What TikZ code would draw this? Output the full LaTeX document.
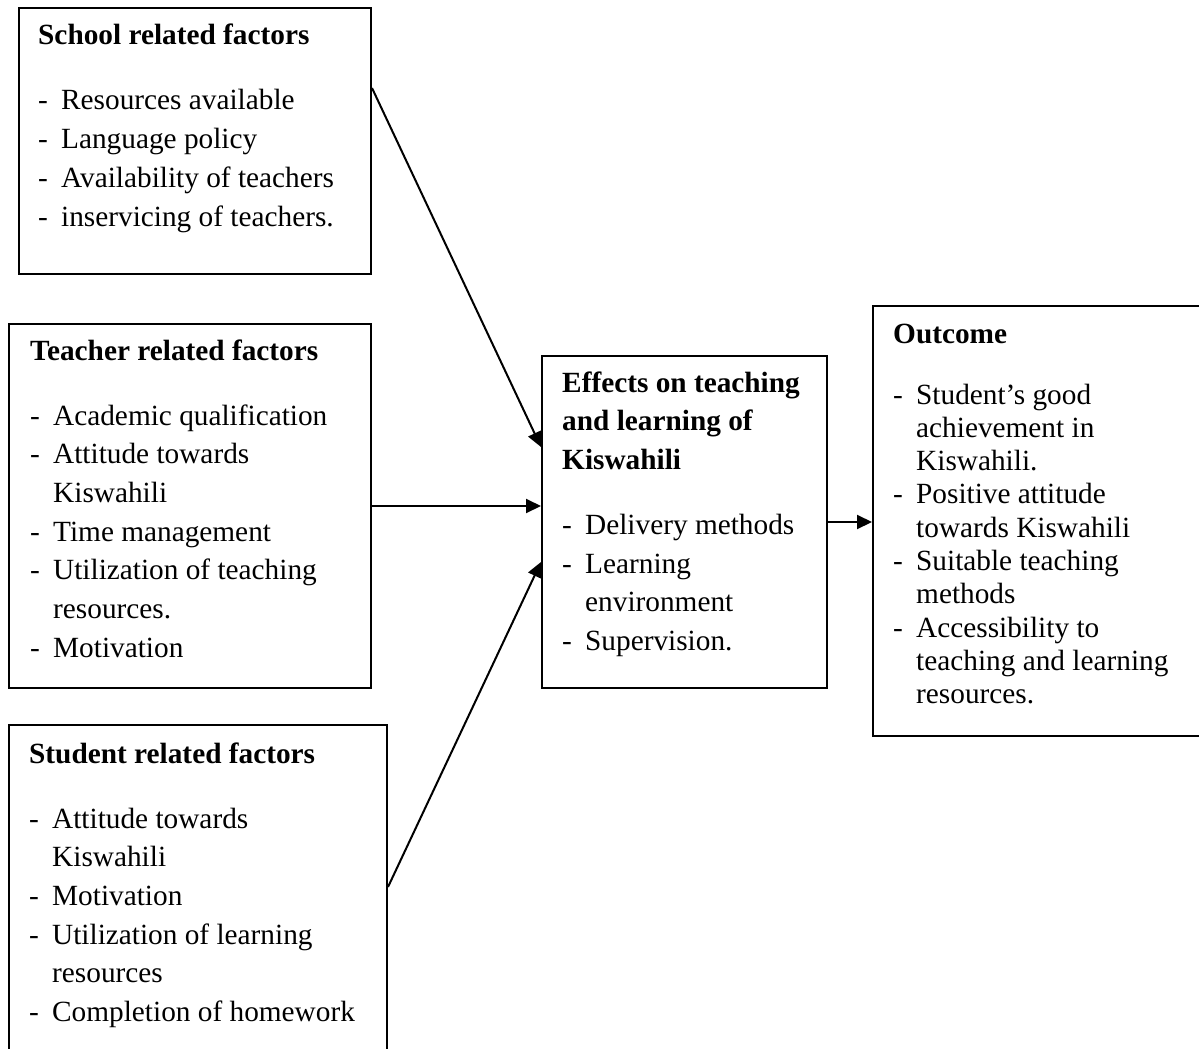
\documentclass[tikz,border=0pt]{standalone}
\usepackage{fontspec}
\setmainfont{Liberation Serif}
\usetikzlibrary{arrows.meta,calc}
\newcommand\ttl[1]{\textbf{#1}\par\vspace{26.3pt}}
\newcommand\itm{\par\noindent\hangindent=23pt\hangafter=1\makebox[23pt][l]{-}}
\newcommand\boxtext[2][38.7pt]{\parbox[t]{400pt}{\fontsize{29.3pt}{#1}\selectfont\raggedright\parskip=0pt\parindent=0pt #2}}
\tikzset{
  frame/.style={draw=black, line width=2pt, rectangle, inner sep=0pt, anchor=north west},
  txt/.style={inner sep=0pt, anchor=base west},
  arr/.style={line width=2pt, -{Triangle[length=15pt,width=14pt]}}
}
\begin{document}
\begin{tikzpicture}[x=1pt,y=-1pt]
\clip (0,0) rectangle (1199,1049);
\fill[white] (0,0) rectangle (1199,1049);
% boxes
\node[frame, minimum width=352pt, minimum height=266pt] (school) at (18,7) {};
\node[frame, minimum width=362.5pt, minimum height=364.5pt] (teacher) at (7.5,322.5) {};
\node[frame, minimum width=378.5pt, minimum height=400pt] (student) at (7.5,724) {};
\node[frame, minimum width=284.5pt, minimum height=332pt] (effects) at (541,355) {};
\node[frame, minimum width=400pt, minimum height=430pt] (outcome) at (872,305) {};
% texts
\node[txt] (schoolt) at (38,45) {\boxtext{\ttl{School related factors}%
\itm Resources available
\itm Language policy
\itm Availability of teachers
\itm inservicing of teachers.}};
\node[txt] (teachert) at (30,360) {\boxtext{\ttl{Teacher related factors}%
\itm Academic qualification
\itm Attitude towards\newline Kiswahili
\itm Time management
\itm Utilization of teaching\newline resources.
\itm Motivation}};
\node[txt] (studentt) at (29,763) {\boxtext{\ttl{Student related factors}%
\itm Attitude towards\newline Kiswahili
\itm Motivation
\itm Utilization of learning\newline resources
\itm Completion of homework}};
\node[txt] (effectst) at (562,392) {\boxtext{\ttl{Effects on teaching\\and learning of\\Kiswahili}%
\itm Delivery methods
\itm Learning\newline environment
\itm Supervision.}};
\node[txt] (outcomet) at (893,343) {\boxtext[33.3pt]{\textbf{Outcome}\par\vspace{27.7pt}%
\itm Student’s good\newline achievement in\newline Kiswahili.
\itm Positive attitude\newline towards Kiswahili
\itm Suitable teaching\newline methods
\itm Accessibility to\newline teaching and learning\newline resources.}};
% connectors
\draw[arr] ($(school.north east)+(0,81)$) -- ($(effects.north west)+(0,92)$);
\draw[arr] ($(teacher.north east)+(0,183.5)$) coordinate (t2) -- (t2 -| effects.west);
\draw[arr] ($(student.north east)+(0,163)$) -- ($(effects.north west)+(0,207)$);
\draw[arr] ($(effects.north east)+(0,167)$) coordinate (e4) -- (e4 -| outcome.west);
\end{tikzpicture}
\end{document}
